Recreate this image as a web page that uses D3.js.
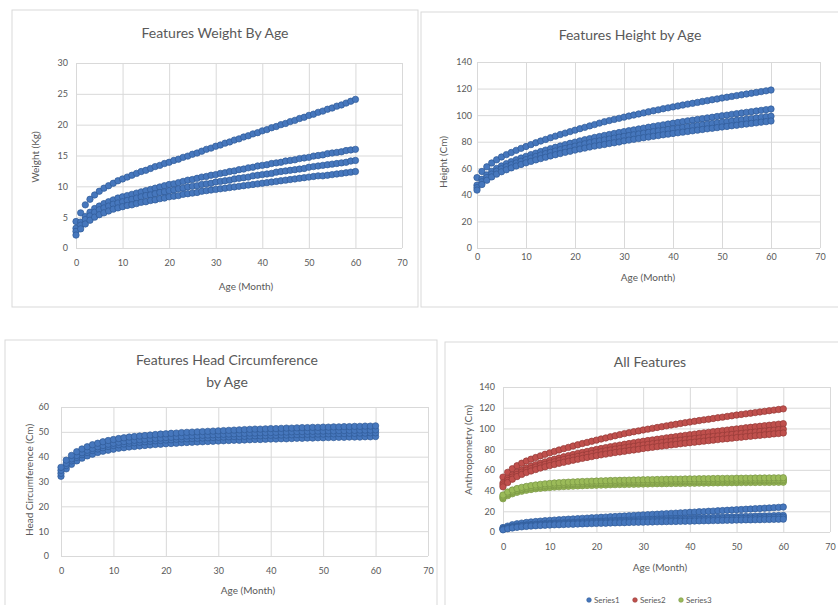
<!DOCTYPE html>
<html>
<head>
<meta charset="utf-8">
<script src="https://cdn.jsdelivr.net/npm/d3@7"></script>
<style>
  body { margin: 0; background: #fff; }
  text { font-family: Lato, "Open Sans", sans-serif; fill: #595959; }
</style>
</head>
<body>
<div id="chart"></div>
<script>
// ages in months (x values shared by every curve)
var ageMonths = [0,1,2,3,4,5,6,7,8,9,10,11,12,13,14,15,16,17,18,19,20,21,22,23,24,25,26,27,28,29,30,
  31,32,33,34,35,36,37,38,39,40,41,42,43,44,45,46,47,48,49,50,51,52,53,54,55,56,57,58,59,60];

// weight (kg)
var weightTop = [4.3,5.7,7.0,7.9,8.6,9.2,9.7,10.1,10.5,10.9,11.2,11.5,11.8,12.1,12.4,12.6,12.9,13.2,13.4,13.7,13.9,
  14.2,14.4,14.7,14.9,15.2,15.4,15.7,16.0,16.2,16.5,16.7,17.0,17.2,17.5,17.7,18.0,18.2,18.5,18.7,19.0,
  19.2,19.5,19.7,20.0,20.2,20.5,20.7,21.0,21.2,21.5,21.7,22.0,22.2,22.5,22.7,23.0,23.2,23.5,23.8,24.1];
var weightBand1 = [3.2,4.2,5.1,5.8,6.4,6.8,7.2,7.5,7.8,8.1,8.3,8.5,8.7,8.9,9.1,9.3,9.5,9.7,9.9,10.1,10.3,
  10.4,10.6,10.8,11.0,11.1,11.3,11.5,11.6,11.8,11.9,12.1,12.2,12.4,12.5,12.7,12.8,13.0,13.1,13.3,13.4,
  13.5,13.7,13.8,13.9,14.1,14.2,14.3,14.5,14.6,14.7,14.9,15.0,15.1,15.3,15.4,15.5,15.6,15.8,15.9,16.0];
var weightBand2 = [2.7,3.7,4.6,5.2,5.8,6.2,6.5,6.8,7.1,7.3,7.5,7.7,7.9,8.1,8.3,8.5,8.6,8.8,9.0,9.1,9.3,
  9.4,9.6,9.7,9.9,10.0,10.1,10.3,10.4,10.5,10.7,10.8,10.9,11.0,11.2,11.3,11.4,11.5,11.7,11.8,11.9,
  12.0,12.1,12.3,12.4,12.5,12.6,12.7,12.8,12.9,13.1,13.2,13.3,13.4,13.5,13.6,13.7,13.8,13.9,14.1,14.2];
var weightBand3 = [2.1,3.1,3.9,4.5,5.0,5.4,5.7,6.0,6.3,6.5,6.7,6.9,7.0,7.2,7.4,7.5,7.7,7.8,8.0,8.1,8.3,
  8.4,8.5,8.7,8.8,8.9,9.0,9.2,9.3,9.4,9.5,9.6,9.7,9.8,9.9,10.0,10.1,10.2,10.3,10.4,10.5,
  10.6,10.7,10.8,10.9,11.0,11.1,11.2,11.3,11.4,11.5,11.6,11.7,11.7,11.8,11.9,12.0,12.1,12.2,12.3,12.4];

// height (cm)
var heightTop = [53.0,57.6,61.1,64.0,66.4,68.5,70.3,71.9,73.5,75.0,76.4,77.8,79.2,80.5,81.7,83.0,84.2,85.4,86.5,87.6,88.7,
  89.8,90.8,91.9,92.9,94.0,95.0,95.9,96.8,97.6,98.5,99.3,100.1,100.9,101.7,102.5,103.3,104.0,104.8,105.5,106.2,
  106.9,107.6,108.3,108.9,109.6,110.3,110.9,111.6,112.2,112.9,113.5,114.1,114.7,115.3,115.9,116.5,117.1,117.7,118.3,118.9];
var heightBand1 = [47.3,51.7,55.0,57.7,59.9,61.8,63.5,65.0,66.4,67.7,69.0,70.3,71.4,72.6,73.7,74.8,75.8,76.8,77.8,78.8,79.7,
  80.6,81.5,82.3,83.2,83.9,84.7,85.4,86.2,86.9,87.6,88.3,88.9,89.6,90.2,90.9,91.5,92.1,92.7,93.3,93.9,
  94.5,95.1,95.7,96.2,96.8,97.3,97.9,98.4,99.0,99.5,100.0,100.6,101.1,101.6,102.1,102.6,103.1,103.6,104.1,104.6];
var heightBand2 = [45.4,49.8,53.0,55.6,57.8,59.6,61.2,62.7,64.0,65.3,66.5,67.7,68.9,70.0,71.0,72.0,73.0,74.0,74.9,75.8,76.7,
  77.5,78.4,79.2,80.0,80.6,81.3,82.0,82.7,83.4,84.0,84.6,85.2,85.8,86.4,87.0,87.5,88.1,88.6,89.2,89.7,
  90.2,90.7,91.2,91.7,92.2,92.7,93.2,93.7,94.2,94.7,95.1,95.6,96.1,96.5,97.0,97.4,97.9,98.3,98.8,99.2];
var heightBand3 = [43.6,47.8,51.0,53.5,55.6,57.4,58.9,60.3,61.7,62.9,64.1,65.2,66.3,67.3,68.3,69.3,70.2,71.1,72.0,72.8,73.7,
  74.5,75.2,76.0,76.7,77.3,77.9,78.6,79.2,79.8,80.6,81.2,81.8,82.4,83.0,83.5,84.1,84.6,85.2,85.7,86.2,
  86.7,87.2,87.7,88.2,88.7,89.2,89.7,90.1,90.6,91.1,91.5,92.0,92.4,92.9,93.3,93.8,94.2,94.7,95.1,95.6];

// head circumference (cm)
var headBand1 = [32.1,35.1,36.9,38.3,39.4,40.3,41.0,41.7,42.2,42.6,43.0,43.4,43.6,43.9,44.1,44.3,44.5,44.7,44.9,45.0,45.2,
  45.3,45.4,45.6,45.7,45.8,45.9,46.0,46.1,46.2,46.3,46.4,46.5,46.6,46.6,46.7,46.8,46.9,46.9,47.0,47.1,
  47.1,47.2,47.2,47.3,47.4,47.4,47.5,47.5,47.6,47.6,47.7,47.7,47.8,47.8,47.9,47.9,47.9,48.0,48.0,48.1];
var headBand2 = [33.3,36.4,38.3,39.7,40.8,41.7,42.5,43.1,43.6,44.1,44.5,44.8,45.1,45.4,45.6,45.8,46.0,46.2,46.4,46.5,46.7,
  46.8,47.0,47.1,47.2,47.3,47.4,47.5,47.6,47.7,47.8,47.9,48.0,48.1,48.1,48.2,48.3,48.4,48.4,48.5,48.6,
  48.6,48.7,48.7,48.8,48.9,48.9,49.0,49.0,49.1,49.1,49.2,49.2,49.3,49.3,49.4,49.4,49.5,49.5,49.6,49.6];
var headBand3 = [34.5,37.3,39.1,40.5,41.6,42.6,43.3,44.0,44.5,45.0,45.4,45.8,46.1,46.3,46.6,46.8,47.0,47.2,47.4,47.5,47.7,
  47.8,48.0,48.1,48.3,48.4,48.5,48.6,48.7,48.8,48.9,49.0,49.1,49.2,49.3,49.4,49.5,49.5,49.6,49.7,49.7,
  49.8,49.9,49.9,50.0,50.1,50.1,50.2,50.2,50.3,50.3,50.4,50.4,50.5,50.5,50.6,50.6,50.7,50.7,50.7,50.8];
var headBand4 = [35.7,38.6,40.5,42.0,43.1,44.0,44.8,45.4,46.0,46.5,46.9,47.3,47.6,47.9,48.1,48.3,48.5,48.7,48.9,49.1,49.2,
  49.4,49.5,49.7,49.8,49.9,50.0,50.1,50.2,50.3,50.4,50.5,50.6,50.7,50.8,50.9,51.0,51.1,51.1,51.2,51.3,
  51.3,51.4,51.5,51.5,51.6,51.7,51.7,51.8,51.8,51.9,51.9,52.0,52.0,52.1,52.1,52.2,52.2,52.3,52.3,52.4];

var xTicks = [0,10,20,30,40,50,60,70];
var weightTicks = [0,5,10,15,20,25,30];
var heightTicks = [0,20,40,60,80,100,120,140];
var headTicks = [0,10,20,30,40,50,60];
var legendNames = ["Series1","Series2","Series3"];

var blue = {fill:"#4677bd", stroke:"#2f5a96"};
var red = {fill:"#c0504d", stroke:"#943936"};
var green = {fill:"#9bbb59", stroke:"#779343"};

var svg = d3.select("#chart").append("svg").attr("width",838).attr("height",605);

function drawPanel(p)
{
    var g = svg.append("g");
    g.append("rect")
        .attr("x",p.box[0]).attr("y",p.box[1])
        .attr("width",p.box[2]).attr("height",p.box[3])
        .style("fill","#fff").style("stroke","#d9d9d9").style("stroke-width",1);

    var x = d3.scaleLinear().domain([0,70]).range([p.left,p.right]);
    var y = d3.scaleLinear().domain([0,p.yTicks[p.yTicks.length-1]]).range([p.bottom,p.top]);

    // gridlines + tick labels
    var xa = g.append("g")
        .attr("transform","translate(0,"+p.bottom+")")
        .call(d3.axisBottom(x).tickValues(xTicks).tickSize(-(p.bottom-p.top)).tickPadding(p.xPad));
    var ya = g.append("g")
        .attr("transform","translate("+p.left+",0)")
        .call(d3.axisLeft(y).tickValues(p.yTicks).tickSize(-(p.right-p.left)).tickPadding(p.yPad));
    [xa,ya].forEach(function(a){
        a.select(".domain").remove();
        a.selectAll("line").style("stroke","#d9d9d9").style("stroke-width",1);
        a.selectAll("text").style("font-family","Lato, sans-serif").style("font-size","9px").style("fill","#595959");
    });

    // title
    p.title.forEach(function(t,i){
        g.append("text").attr("x",p.titleX).attr("y",p.titleY+i*22)
            .attr("text-anchor","middle").style("font-size","14px").text(t);
    });
    g.append("text")
        .attr("transform","translate("+p.yTitleX+","+p.yTitleY+") rotate(-90)")
        .attr("text-anchor","middle").attr("dy","0.35em")
        .style("font-size","10px").text(p.yTitle);
    g.append("text").attr("x",p.xTitleX).attr("y",p.xTitleY)
        .attr("text-anchor","middle").attr("dy","0.35em")
        .style("font-size","10px").text("Age  (Month)");

    p.series.forEach(function(s){
        s.curves.forEach(function(vals){
            g.append("g").selectAll("circle")
                .data(vals)
                .enter()
                .append("circle")
                .attr("cx",function(d,i){return x(ageMonths[i]);})
                .attr("cy",function(d){return y(d);})
                .attr("r",3.2)
                .style("fill",s.color.fill)
                .style("stroke",s.color.stroke)
                .style("stroke-width",0.7);
        });
    });
    return g;
}

var weightCurves = [weightTop,weightBand1,weightBand2,weightBand3];
var heightCurves = [heightTop,heightBand1,heightBand2,heightBand3];
var headCurves = [headBand1,headBand2,headBand3,headBand4];

drawPanel({box:[12,10,406,297], left:76, right:402, top:63, bottom:248, yTicks:weightTicks,
    xPad:12, yPad:8, title:["Features Weight By Age"], titleX:215, titleY:38,
    yTitle:"Weight  (Kg)", yTitleX:35, yTitleY:157, xTitleX:246, xTitleY:286,
    series:[{color:blue, curves:weightCurves}]});

drawPanel({box:[421,12,430,295], left:477, right:820, top:62, bottom:248, yTicks:heightTicks,
    xPad:6, yPad:5, title:["Features Height by Age"], titleX:630, titleY:40,
    yTitle:"Height  (Cm)", yTitleX:443, yTitleY:162, xTitleX:648, xTitleY:277,
    series:[{color:blue, curves:heightCurves}]});

drawPanel({box:[5,340,432,280], left:61, right:428, top:407, bottom:556, yTicks:headTicks,
    xPad:12, yPad:12, title:["Features Head Circumference","by Age"], titleX:227, titleY:365,
    yTitle:"Head Circumference (Cm)", yTitleX:29, yTitleY:480, xTitleX:248, xTitleY:590,
    series:[{color:blue, curves:headCurves}]});

var all = drawPanel({box:[445,342,410,280], left:503, right:830, top:387, bottom:532, yTicks:heightTicks,
    xPad:12, yPad:8, title:["All Features"], titleX:650, titleY:367,
    yTitle:"Anthropometry (Cm)", yTitleX:468, yTitleY:450, xTitleX:660, xTitleY:567,
    series:[{color:blue, curves:weightCurves},{color:red, curves:heightCurves},{color:green, curves:headCurves}]});

// legend
var legendColors = [blue,red,green];
var leg = all.append("g").attr("transform","translate(589,600)");
legendNames.forEach(function(n,i){
    var item = leg.append("g").attr("transform","translate("+(i*46)+",0)");
    item.append("circle").attr("r",2.3).style("fill",legendColors[i].fill).style("stroke",legendColors[i].stroke).style("stroke-width",0.6);
    item.append("text").attr("x",5).attr("dy","0.35em").style("font-size","8px").text(n);
});
</script>
</body>
</html>
